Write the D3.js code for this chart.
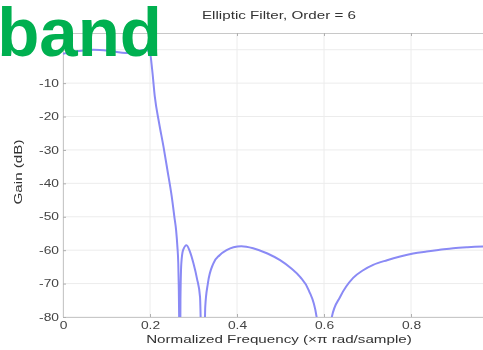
<!DOCTYPE html>
<html><head><meta charset="utf-8">
<script src="https://cdn.jsdelivr.net/npm/d3@7"></script>
<style>html,body{margin:0;padding:0;background:#fff;overflow:hidden}svg{display:block}</style>
</head><body>
<script>
const freq = [0,0.03,0.07,0.11,0.145,0.175,0.19,0.2,0.205,0.211,0.221,0.231,0.24,0.25,0.256,0.26,0.263,0.265,0.266,0.267,0.2685,0.27,0.272,0.276,0.284,0.292,0.3,0.308,0.315,0.3225,0.327,0.333,0.3455,0.36,0.376,0.392,0.41,0.437,0.47,0.499,0.525,0.545,0.565,0.583,0.6,0.618,0.637,0.667,0.69,0.713,0.745,0.775,0.805,0.836,0.866,0.897,0.93,0.965,1.0];
const gain = [-1.2,-0.5,0,-0.4,-1.0,-0.3,0,-1,-6,-14,-22,-29,-36,-44,-50,-54,-59,-64,-70,-80,-120,-75,-64,-60,-58.5,-60.5,-64,-68.5,-74,-120,-77,-70,-64,-61.5,-60,-59.1,-58.8,-59.4,-61,-63,-65.5,-68,-72,-80,-120,-80,-74,-68.3,-66,-64.4,-63,-61.9,-61,-60.4,-59.9,-59.4,-59.1,-58.9,-58.8];
const xTicks = [0,0.2,0.4,0.6,0.8];
const yTicks = [-80,-70,-60,-50,-40,-30,-20,-10,0];
const titleText = "Elliptic Filter, Order = 6";
const xLabel = "Normalized Frequency (\u00d7\u03c0 rad/sample)";
const yLabel = "Gain (dB)";
const overlayText = "band";

const W=483,H=350;
const svg=d3.select("body").append("svg").attr("width",W).attr("height",H);
const defs=svg.append("defs");
defs.append("filter").attr("id","soft").attr("x","-5%").attr("y","-5%").attr("width","110%").attr("height","110%")
  .append("feGaussianBlur").attr("stdDeviation",0.45);
const x=d3.scaleLinear().domain([0,1]).range([63,498]);
const y=d3.scaleLinear().domain([-80,5]).range([317,33]);
const font="Liberation Sans, Arial, sans-serif";
const chart=svg.append("g").attr("filter","url(#soft)");

// grid
chart.selectAll(".gx").data(xTicks).join("line").attr("x1",d=>x(d)).attr("x2",d=>x(d)).attr("y1",y(5)).attr("y2",y(-80)).attr("stroke","#ececec");
chart.selectAll(".gy").data(yTicks).join("line").attr("x1",x(0)).attr("x2",x(1)).attr("y1",d=>y(d)).attr("y2",d=>y(d)).attr("stroke","#ececec");

// axes
const xa=chart.append("g").attr("transform",`translate(0,${y(-80)})`).call(d3.axisBottom(x).tickValues(xTicks).tickFormat(d3.format("")).tickSize(-3).tickPadding(5));
const xt=chart.append("g").attr("transform",`translate(0,${y(5)})`).call(d3.axisTop(x).tickValues(xTicks).tickFormat("").tickSize(-3));
const ya=chart.append("g").attr("transform",`translate(${x(0)},0)`).call(d3.axisLeft(y).tickValues(yTicks).tickFormat(d=>d===0?"":"-"+Math.abs(d)).tickSize(-3).tickPadding(4));
[xa,xt,ya].forEach(a=>{a.select(".domain").attr("stroke","#c8c8c8");a.selectAll(".tick line").attr("stroke","#b0b0b0");a.selectAll("text").attr("fill","#444").style("font-family",font).style("font-size","10px");});

// clip
chart.append("clipPath").attr("id","c").append("rect").attr("x",x(0)).attr("y",y(5)).attr("width",x(1)-x(0)).attr("height",y(-80)-y(5));
const line=d3.line().x((d,i)=>x(freq[i])).y(d=>y(d)).curve(d3.curveMonotoneX);
chart.append("path").attr("clip-path","url(#c)").attr("d",line(gain)).attr("fill","none").attr("stroke","#8a8af5").attr("stroke-width",2);

// texts
chart.append("text").attr("x",279).attr("y",19).attr("text-anchor","middle").style("font-family",font).style("font-size","11px").attr("fill","#333").text(titleText);
chart.append("text").attr("x",279).attr("y",343).attr("text-anchor","middle").style("font-family",font).style("font-size","11px").attr("fill","#333").text(xLabel);
chart.append("text").attr("transform","translate(22,172) rotate(-90)").attr("text-anchor","middle").style("font-family",font).style("font-size","11px").attr("fill","#333").text(yLabel);

// horizontal stretch of the chart's texts
chart.selectAll("text").each(function(){
  const len=this.getComputedTextLength();
  if(len>0) d3.select(this).attr("textLength",len*1.38).attr("lengthAdjust","spacingAndGlyphs");
});

svg.append("text").attr("x",162).attr("y",56).attr("text-anchor","end").style("font-family",font).style("font-weight","bold").style("font-size","69px").attr("fill","#00b050").text(overlayText);
</script>
</body></html>
